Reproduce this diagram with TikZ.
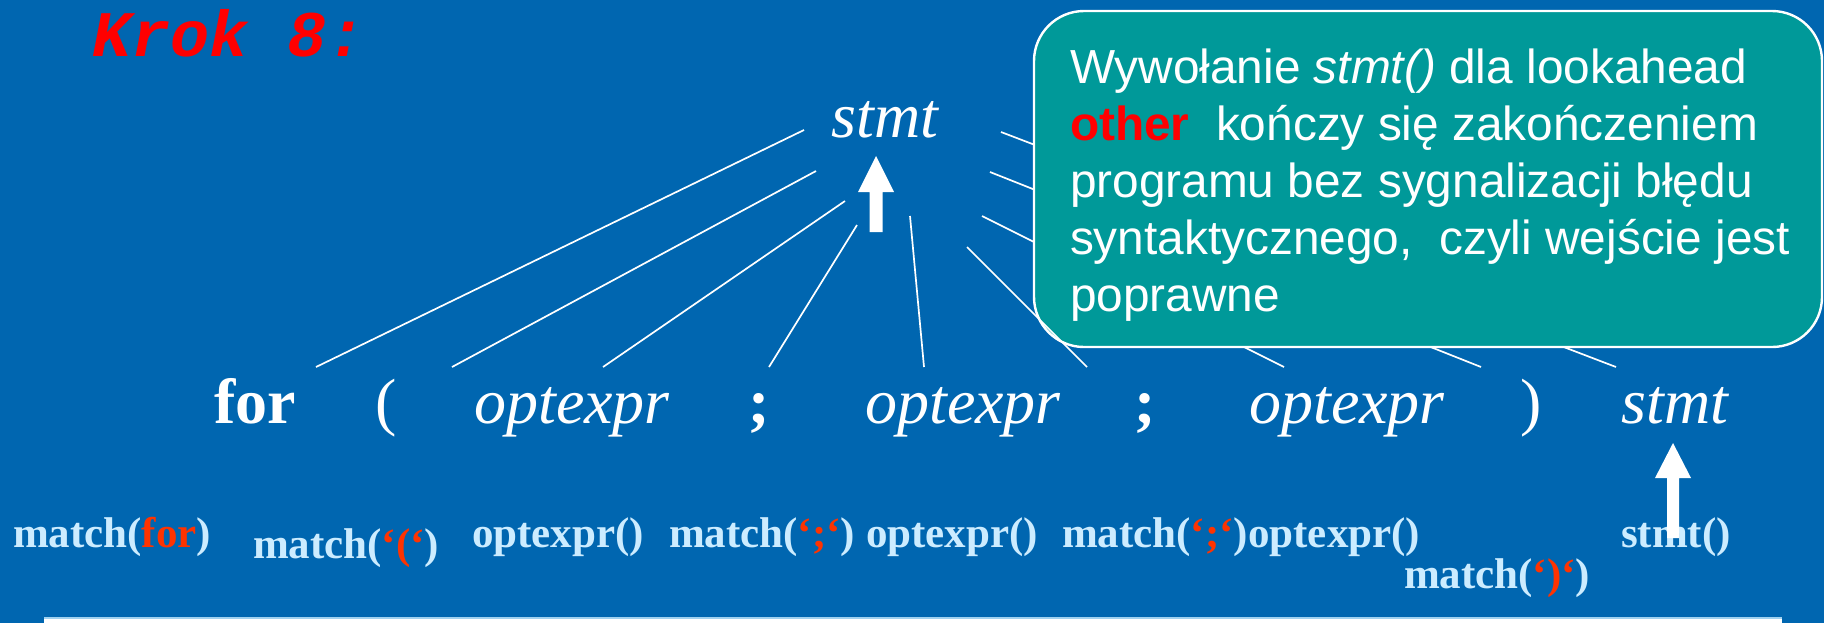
\documentclass[tikz,border=0pt]{standalone}
\usepackage{fontspec}
\setmainfont{Liberation Serif}
\newfontfamily\arialf{Liberation Sans}
\newfontfamily\courf{Liberation Mono}
\definecolor{bg}{RGB}{0,102,176}
\definecolor{tealbox}{RGB}{0,153,153}
\definecolor{lblue}{RGB}{204,236,255}
\definecolor{ored}{RGB}{255,51,0}
\definecolor{barline}{RGB}{160,210,240}
\begin{document}
\begin{tikzpicture}[x=0.5pt,y=-0.5pt,
  every node/.style={inner sep=0pt,outer sep=0pt},
  sym/.style={text=white,anchor=base,font=\fontsize{32}{38}\selectfont},
  symb/.style={sym,font=\fontsize{32}{38}\selectfont\bfseries},
  symi/.style={sym,font=\fontsize{32}{38}\selectfont\itshape},
  calllbl/.style={text=lblue,anchor=base west,font=\fontsize{21.5}{26}\selectfont\bfseries},
  ctext/.style={text=white,anchor=base west,font=\arialf\fontsize{23.9}{28.5}\selectfont},
  treeline/.style={white,line width=0.85pt},
  blockarrow/.style={fill=white}
]
\fill[bg] (0,0) rectangle (1824,623);
\useasboundingbox (0,0) rectangle (1824,623);
\fill[white] (44,618) rectangle (1782,623);
\draw[barline,line width=1pt] (44,618) -- (1782,618);

% title
\node[anchor=base west,text=red,font=\courf\fontsize{32.5}{40}\selectfont\bfseries\itshape] (krok) at (92,56) {Krok 8:};

% tree
\node[symi] (top) at (885,137) {stmt};
\node[symb] (nfor) at (255,423) {for};
\node[sym]  (nlp) at (386,423) {(};
\node[symi] (oe1) at (572,423) {optexpr};
\node[symb] (sc1) at (759,423) {;};
\node[symi] (oe2) at (963,423) {optexpr};
\node[symb] (sc2) at (1145,423) {;};
\node[symi] (oe3) at (1347,423) {optexpr};
\node[sym]  (nrp) at (1531,423) {)};
\node[symi] (st2) at (1675,423) {stmt};

\coordinate (t1) at (804,130);  \coordinate (b1) at (316,367);
\coordinate (t2) at (816,171);  \coordinate (b2) at (452,367);
\coordinate (t3) at (845,201);  \coordinate (b3) at (603,367);
\coordinate (t4) at (857,225);  \coordinate (b4) at (769,367);
\coordinate (t5) at (910,216);  \coordinate (b5) at (924,367);
\coordinate (t6) at (967,247);  \coordinate (b6) at (1087,367);
\coordinate (t7) at (982,216);  \coordinate (b7) at (1284,367);
\coordinate (t8) at (990,172);  \coordinate (b8) at (1481,367);
\coordinate (t9) at (1001,132); \coordinate (b9) at (1616,367);
\foreach \i in {1,2,3,4,5,7,8,9} {\draw[treeline] (t\i) -- (b\i);}

% callout
\draw[white,line width=1.2pt,fill=tealbox,rounded corners=25pt] (1034,11) rectangle (1822,347);
\draw[treeline] (t6) -- (b6);
\node[ctext] (c1) at (1070,83) {Wywołanie \textit{stmt()} dla lookahead};
\node[ctext] (c2) at (1070,140) {\textcolor{red}{\bfseries other}\ \ kończy się zakończeniem};
\node[ctext] (c3) at (1070,197) {programu bez sygnalizacji błędu};
\node[ctext] (c4) at (1070,254) {syntaktycznego,\ \ czyli wejście jest};
\node[ctext] (c5) at (1070,311) {poprawne};

% calls
\node[calllbl] (m1) at (13,547) {match(\textcolor{ored}{for})};
\node[calllbl] (m2) at (253,558) {match(\textcolor{ored}{‘(‘})};
\node[calllbl] (m3) at (472,547) {optexpr()};
\node[calllbl] (m4) at (669,547) {match(\textcolor{ored}{‘;‘})};
\node[calllbl] (m5) at (866,547) {optexpr()};
\node[calllbl] (m6) at (1062,547) {match(\textcolor{ored}{‘;‘})};
\node[calllbl] (m7) at (m6.base east) {optexpr()};
\node[calllbl] (m8) at (1404,588) {match(\textcolor{ored}{‘)‘})};
\node[calllbl] (m9) at (1621,547) {stmt()};

% arrows
\fill[blockarrow] (876,156) -- (894,192) -- (882.5,192) -- (882.5,232) -- (869.5,232) -- (869.5,192) -- (858,192) -- cycle;
\fill[blockarrow] (1673,443) -- (1691,478) -- (1679,478) -- (1679,538) -- (1667,538) -- (1667,478) -- (1655,478) -- cycle;
\end{tikzpicture}
\end{document}
